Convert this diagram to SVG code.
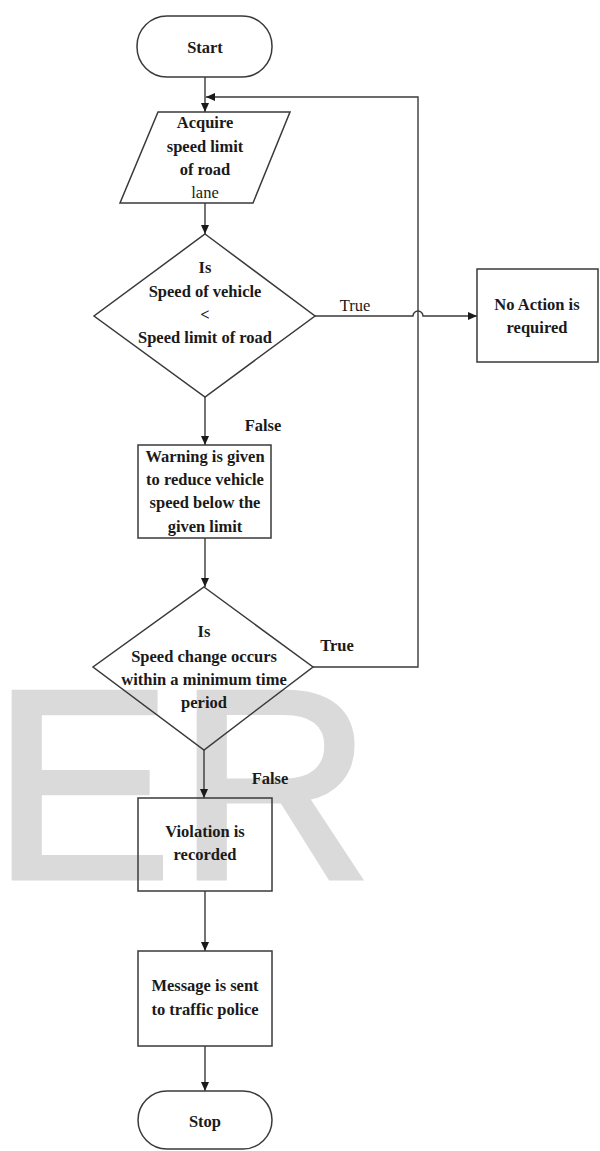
<svg xmlns="http://www.w3.org/2000/svg" width="600" height="1151" viewBox="0 0 600 1151">
  <defs>
    <style>
      .shape { fill: none; stroke: #3a3a3a; stroke-width: 1.5; }
      .conn { fill: none; stroke: #3a3a3a; stroke-width: 1.4; }
      .t { font-family: "Liberation Serif", "Times New Roman", serif; font-size: 16.5px; font-weight: bold; fill: #1a1a1a; text-anchor: middle; }
      .n { font-weight: normal; }
      .wm { font-family: "Liberation Sans", Arial, sans-serif; font-size: 270px; fill: #dadada; stroke: #dadada; stroke-width: 5; }
    </style>
    <marker id="arr" markerWidth="10" markerHeight="10" refX="9" refY="4" orient="auto" markerUnits="userSpaceOnUse">
      <path d="M0,0 L9,4 L0,8 Z" fill="#1a1a1a"/>
    </marker>
  </defs>
  <rect x="0" y="0" width="600" height="1151" fill="#ffffff"/>

  <g id="watermark">
    <text class="wm" x="-8" y="878">E</text>
    <text class="wm" x="177" y="878">R</text>
  </g>

  <g id="connectors">
    <line class="conn" x1="205" y1="77" x2="205" y2="112" marker-end="url(#arr)"/>
    <line class="conn" x1="205" y1="203" x2="205" y2="234" marker-end="url(#arr)"/>
    <path class="conn" d="M315,316 H413 A5,5 0 0 1 423,316 H477" marker-end="url(#arr)"/>
    <line class="conn" x1="205" y1="397" x2="205" y2="445" marker-end="url(#arr)"/>
    <line class="conn" x1="205" y1="538" x2="205" y2="587" marker-end="url(#arr)"/>
    <path class="conn" d="M313,667 H418 V97 H206" marker-end="url(#arr)"/>
    <line class="conn" x1="204" y1="750" x2="204" y2="798" marker-end="url(#arr)"/>
    <line class="conn" x1="205" y1="891" x2="205" y2="951" marker-end="url(#arr)"/>
    <line class="conn" x1="205" y1="1046" x2="205" y2="1091" marker-end="url(#arr)"/>
    <text class="t n" x="355" y="311">True</text>
    <text class="t" x="263" y="431">False</text>
    <text class="t" x="337" y="651">True</text>
    <text class="t" x="270" y="784">False</text>
  </g>

  <g id="start">
    <rect class="shape" x="137" y="16" width="135" height="61" rx="30" ry="30"/>
    <text class="t" x="205" y="53">Start</text>
  </g>

  <g id="acquire">
    <polygon class="shape" points="158,112 290,112 253,203 120,203"/>
    <text class="t" x="205" y="128">Acquire</text>
    <text class="t" x="205" y="152">speed limit</text>
    <text class="t" x="205" y="175">of road</text>
    <text class="t n" x="205" y="198">lane</text>
  </g>

  <g id="decision1">
    <polygon class="shape" points="205,234 315,316 205,397 94,316"/>
    <text class="t" x="205" y="273">Is</text>
    <text class="t" x="205" y="297">Speed of vehicle</text>
    <text class="t" x="205" y="320">&lt;</text>
    <text class="t" x="205" y="343">Speed limit of road</text>
  </g>

  <g id="noaction">
    <rect class="shape" x="477" y="269" width="121" height="93"/>
    <text class="t" x="537" y="310">No Action is</text>
    <text class="t" x="537" y="333">required</text>
  </g>

  <g id="warning">
    <rect class="shape" x="138" y="445" width="133" height="93"/>
    <text class="t" x="205" y="462">Warning is given</text>
    <text class="t" x="205" y="485">to reduce vehicle</text>
    <text class="t" x="205" y="508">speed below the</text>
    <text class="t" x="205" y="532">given limit</text>
  </g>

  <g id="decision2">
    <polygon class="shape" points="204,587 313,667 204,750 93,667"/>
    <text class="t" x="204" y="637">Is</text>
    <text class="t" x="204" y="662">Speed change occurs</text>
    <text class="t" x="204" y="685">within a minimum time</text>
    <text class="t" x="204" y="708">period</text>
  </g>

  <g id="violation">
    <rect class="shape" x="138" y="798" width="134" height="93"/>
    <text class="t" x="205" y="837">Violation is</text>
    <text class="t" x="205" y="860">recorded</text>
  </g>

  <g id="message">
    <rect class="shape" x="138" y="951" width="134" height="95"/>
    <text class="t" x="205" y="991">Message is sent</text>
    <text class="t" x="205" y="1015">to traffic police</text>
  </g>

  <g id="stop">
    <rect class="shape" x="138" y="1091" width="134" height="58" rx="29" ry="29"/>
    <text class="t" x="205" y="1127">Stop</text>
  </g>
</svg>
